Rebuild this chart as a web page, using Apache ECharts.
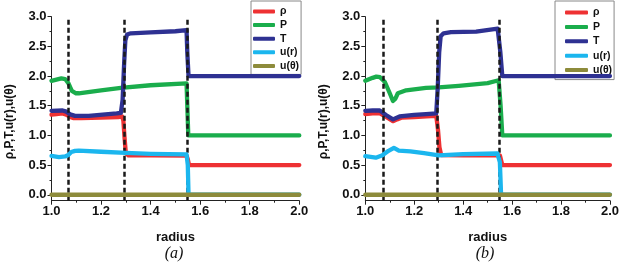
<!DOCTYPE html>
<html><head><meta charset="utf-8">
<script src="https://cdn.jsdelivr.net/npm/echarts@6/dist/echarts.min.js"></script>
<style>html,body{margin:0;padding:0;background:#fff}#c{width:622px;height:266px}</style>
</head><body><div id="c"></div>
<script>
// ---- data: panel (a) ----
const rhoA = [[1.0,1.35],[1.02,1.36],[1.045,1.37],[1.06,1.35],[1.075,1.31],[1.09,1.29],[1.12,1.29],[1.2,1.30],[1.27,1.31],[1.285,1.32],[1.29,1.25],[1.295,0.95],[1.30,0.70],[1.31,0.665],[1.4,0.665],[1.545,0.66],[1.55,0.60],[1.555,0.50],[2.0,0.50]];
const pA = [[1.0,1.92],[1.02,1.94],[1.04,1.96],[1.055,1.95],[1.068,1.88],[1.082,1.75],[1.099,1.71],[1.11,1.71],[1.2,1.76],[1.28,1.80],[1.4,1.845],[1.545,1.875],[1.548,1.5],[1.552,1.0],[2.0,1.0]];
const tA = [[1.0,1.415],[1.045,1.42],[1.06,1.40],[1.075,1.355],[1.095,1.33],[1.15,1.33],[1.263,1.37],[1.28,1.38],[1.287,1.6],[1.293,2.2],[1.298,2.6],[1.305,2.70],[1.32,2.72],[1.4,2.735],[1.5,2.755],[1.545,2.775],[1.548,2.4],[1.553,2.0],[2.0,2.0]];
const urA = [[1.0,0.655],[1.03,0.635],[1.055,0.645],[1.068,0.67],[1.08,0.72],[1.095,0.74],[1.11,0.745],[1.2,0.725],[1.3,0.705],[1.4,0.69],[1.545,0.68],[1.55,0.5],[1.553,0.0],[2.0,0.0]];
const utA = [[1.0,0.0],[2.0,0.0]];
const shockA = [1.067, 1.293, 1.548];
// ---- data: panel (b) ----
const rhoB = [[1.0,1.36],[1.03,1.37],[1.06,1.37],[1.085,1.31],[1.113,1.24],[1.13,1.27],[1.15,1.30],[1.2,1.31],[1.25,1.32],[1.29,1.33],[1.297,1.1],[1.303,0.80],[1.31,0.67],[1.4,0.665],[1.55,0.665],[1.555,0.58],[1.56,0.50],[2.0,0.50]];
const pB = [[1.0,1.92],[1.03,1.97],[1.045,1.99],[1.06,1.98],[1.08,1.90],[1.10,1.71],[1.113,1.58],[1.123,1.62],[1.133,1.71],[1.167,1.76],[1.248,1.80],[1.3,1.81],[1.382,1.835],[1.5,1.88],[1.545,1.93],[1.553,1.5],[1.56,1.0],[2.0,1.0]];
const tB = [[1.0,1.415],[1.03,1.42],[1.059,1.42],[1.086,1.34],[1.113,1.27],[1.14,1.32],[1.2,1.345],[1.248,1.36],[1.29,1.37],[1.296,1.8],[1.302,2.4],[1.308,2.67],[1.32,2.72],[1.35,2.74],[1.453,2.75],[1.541,2.80],[1.552,2.4],[1.56,2.0],[2.0,2.0]];
const urB = [[1.0,0.65],[1.043,0.625],[1.07,0.665],[1.095,0.74],[1.117,0.79],[1.137,0.745],[1.184,0.73],[1.24,0.70],[1.30,0.665],[1.40,0.685],[1.54,0.695],[1.55,0.55],[1.555,0.0],[2.0,0.0]];
const utB = [[1.0,0.0],[2.0,0.0]];
const shockB = [1.073, 1.293, 1.548];
const shockTopA = 2.95, shockTopB = 3.0, shockBottom = -0.1;
// ---- names / ticks ----
const seriesNames = ['ρ','P','T','u(r)','u(θ)'];
const yMajor = [0,0.5,1.0,1.5,2.0,2.5,3.0];
const yMinor = [0.25,0.75,1.25,1.75,2.25,2.75];
const colors = ['#ee3133','#1aad4c','#2e3192','#1bb6ee','#8d8b3b'];

const chart = echarts.init(document.getElementById('c'), null, {renderer:'canvas'});
const font = 'Liberation Sans, Arial, sans-serif';
const axisCol = '#222';
const grids = [
  {left:51.5, right:322.7, top:16.7, bottom:65.3},
  {left:365.3, right:9, top:16.7, bottom:65.3}
];
const xAxes = [], yAxes = [], series = [], legends = [];
[0,1].forEach(g=>{
  xAxes.push({type:'value', gridIndex:g, min:1, max:2, interval:0.2,
    name:'radius', nameLocation:'middle', nameGap:30,
    nameTextStyle:{fontFamily:font, fontWeight:'bold', fontSize:13, color:'#111'},
    axisLine:{show:true, onZero:false, lineStyle:{color:axisCol, width:1}},
    axisTick:{show:true, length:4, inside:false, lineStyle:{color:axisCol}},
    minorTick:{show:true, splitNumber:2, length:2, lineStyle:{color:axisCol}},
    splitLine:{show:false},
    axisLabel:{fontFamily:font, fontWeight:'bold', fontSize:13, color:'#111', margin:4, formatter:v=>v.toFixed(1)}
  });
  yAxes.push({type:'value', gridIndex:g, min:-0.1, max:3.0,
    name:'ρ,P,T,u(r),u(θ)', nameLocation:'middle', nameGap:36, nameRotate:90,
    nameTextStyle:{fontFamily:font, fontWeight:'bold', fontSize:12, color:'#111', padding:[0,26,0,0]},
    axisLine:{show:true, onZero:false, lineStyle:{color:axisCol, width:1}},
    axisTick:{show:true, length:4, customValues:yMajor, lineStyle:{color:axisCol}},
    splitLine:{show:false},
    axisLabel:{fontFamily:font, fontWeight:'bold', fontSize:13, color:'#111', margin:5, customValues:yMajor, formatter:v=>v.toFixed(1)}
  });
  yAxes.push({type:'value', gridIndex:g, min:-0.1, max:3.0, position:'left', offset:0,
    axisLine:{show:false}, splitLine:{show:false}, axisLabel:{show:false},
    axisTick:{show:true, length:2, customValues:yMinor, lineStyle:{color:axisCol}}
  });
});
const panelData = [[rhoA,pA,tA,urA,utA],[rhoB,pB,tB,urB,utB]];
const shocks = [shockA, shockB];
const shockTops = [shockTopA, shockTopB];
[0,1].forEach(g=>{
  panelData[g].forEach((d,i)=>{
    series.push({type:'line', name:seriesNames[i], xAxisIndex:g, yAxisIndex:g*2,
      data:d, showSymbol:false, symbol:'none', smooth:false, z:2+i,
      lineStyle:{color:colors[i], width:4.3, join:'round', cap:'round'},
      itemStyle:{color:colors[i]}, animation:false});
  });
  series.push({type:'line', name:'shocks'+g, xAxisIndex:g, yAxisIndex:g*2, data:[], z:10,
    markLine:{silent:true, symbol:['none','none'], animation:false, label:{show:false},
      lineStyle:{color:'#1a1a1a', width:2.5, type:[5,3]},
      data: shocks[g].map(x=>[{coord:[x, shockBottom]},{coord:[x, shockTops[g]]}])}
  });
});
legends.push({data:seriesNames, orient:'vertical', left:251, top:1, icon:'roundRect',
  itemWidth:22, itemHeight:4, itemGap:2.6, padding:[5,2,3,2],
  borderColor:'#888', borderWidth:1, backgroundColor:'#fff', selectedMode:false,
  textStyle:{fontFamily:font, fontWeight:'bold', fontSize:10.5, lineHeight:10, color:'#111'}, itemStyle:{borderWidth:0}, lineStyle:{width:0}});
legends.push({data:seriesNames, orient:'vertical', left:555, top:1, icon:'roundRect',
  itemWidth:23, itemHeight:4, itemGap:3.4, padding:[6,2,4,10],
  borderColor:'#888', borderWidth:1, backgroundColor:'#fff', selectedMode:false,
  textStyle:{fontFamily:font, fontWeight:'bold', fontSize:10.5, lineHeight:10, color:'#111'}, itemStyle:{borderWidth:0}, lineStyle:{width:0}});

chart.setOption({
  animation:false,
  color:colors,
  grid:grids,
  xAxis:xAxes,
  yAxis:yAxes,
  legend:legends,
  series:series,
  graphic:[
    {type:'text', x:174, y:254, style:{text:'(a)', x:0, y:0, textAlign:'center', textVerticalAlign:'middle', font:'italic 16px "Liberation Serif", "DejaVu Serif", serif', fill:'#111'}},
    {type:'text', x:485, y:254, style:{text:'(b)', x:0, y:0, textAlign:'center', textVerticalAlign:'middle', font:'italic 16px "Liberation Serif", "DejaVu Serif", serif', fill:'#111'}}
  ]
});
</script></body></html>
